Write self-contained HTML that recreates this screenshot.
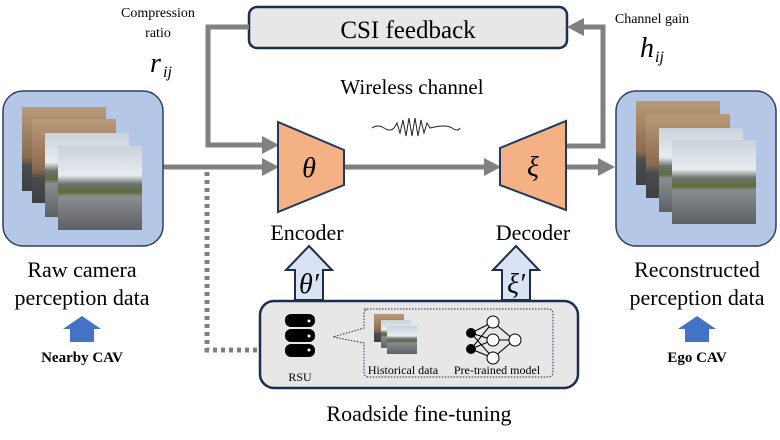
<!DOCTYPE html>
<html><head><meta charset="utf-8"><style>
body{margin:0;background:#fff;}
svg text{font-family:"Liberation Serif","Times New Roman",serif;}
</style></head><body>
<svg width="780" height="435" viewBox="0 0 780 435" xmlns="http://www.w3.org/2000/svg">
<defs>
<linearGradient id="ph" x1="0" y1="0" x2="0" y2="1">
<stop offset="0" stop-color="#c9d2dc"/><stop offset="0.35" stop-color="#e8ecef"/><stop offset="0.45" stop-color="#6c7570"/><stop offset="0.55" stop-color="#5d6b3a"/><stop offset="0.6" stop-color="#8a8d8f"/><stop offset="1" stop-color="#5e6164"/>
</linearGradient>
<linearGradient id="bd" x1="0" y1="0" x2="0" y2="1">
<stop offset="0" stop-color="#b99a78"/><stop offset="0.6" stop-color="#8b6b4f"/><stop offset="0.7" stop-color="#4a4d4f"/><stop offset="1" stop-color="#3e4042"/>
</linearGradient>
</defs>

<rect x="249" y="7" width="318" height="41" rx="8" fill="#e7e7e7" stroke="#1f2d4d" stroke-width="2.5"/>
<text x="408" y="38" font-size="25" text-anchor="middle">CSI feedback</text>

<g fill="none" stroke="#808080" stroke-width="5">
<polyline points="249,27 208,27 208,145 264,145"/>
<polyline points="566,146 603,146 603,27 582,27"/>
<line x1="163" y1="167" x2="264" y2="167"/>
<line x1="344" y1="167" x2="486" y2="167"/>
<line x1="566" y1="167" x2="600" y2="167"/>
<polyline points="207,172 207,350 266,350" stroke-dasharray="4,4"/>
</g>
<g fill="#808080">
<path d="M262,136 L279,145 L262,154 Z"/>
<path d="M262,158 L279,167 L262,176 Z"/>
<path d="M484,158 L501,167 L484,176 Z"/>
<path d="M598,158 L615,167 L598,176 Z"/>
<path d="M584,18 L567,27 L584,36 Z"/>
<path d="M264,342 L280,350 L264,358 Z"/>
</g>

<polygon points="278,122 344,150 344,185 278,212" fill="#f4b183" stroke="#1f3864" stroke-width="2"/>
<text x="309" y="177" font-size="28" font-style="italic" text-anchor="middle">θ</text>
<polygon points="500,148 566,121 566,210 500,185" fill="#f4b183" stroke="#1f3864" stroke-width="2"/>
<text x="533" y="176" font-size="28" font-style="italic" text-anchor="middle">ξ</text>
<text x="307" y="240" font-size="22" text-anchor="middle">Encoder</text>
<text x="533" y="240" font-size="22" text-anchor="middle">Decoder</text>

<text x="412" y="94" font-size="21" text-anchor="middle">Wireless channel</text>
<path d="M372,128 Q378,124 384,128 T394,128 l3,-5 l3,10 l3,-13 l3,16 l3,-18 l3,18 l3,-18 l3,18 l3,-16 l3,13 l3,-10 l3,5 Q446,124 452,128 T460,128" fill="none" stroke="#222" stroke-width="1"/>

<text x="158" y="17" font-size="14" text-anchor="middle">Compression</text>
<text x="158" y="37" font-size="14" text-anchor="middle">ratio</text>
<text x="150" y="72" font-size="28" font-style="italic">r</text><text x="163" y="77" font-size="16" font-style="italic">ij</text>
<text x="652" y="23" font-size="14" text-anchor="middle">Channel gain</text>
<text x="640" y="57" font-size="28" font-style="italic">h</text><text x="655" y="62" font-size="16" font-style="italic">ij</text>

<rect x="3" y="91" width="160" height="155" rx="20" fill="#b4c7e7" stroke="#2f3f5f" stroke-width="1.5"/>
<rect x="22" y="107" width="84" height="84" fill="url(#bd)"/>
<rect x="32" y="119" width="84" height="84" fill="url(#bd)"/>
<rect x="45" y="133" width="84" height="84" fill="url(#ph)"/>
<rect x="58" y="146" width="84" height="84" fill="url(#ph)"/>
<rect x="616" y="91" width="160" height="155" rx="20" fill="#b4c7e7" stroke="#2f3f5f" stroke-width="1.5"/>
<rect x="636" y="101" width="84" height="84" fill="url(#bd)"/>
<rect x="646" y="114" width="84" height="84" fill="url(#bd)"/>
<rect x="659" y="128" width="84" height="84" fill="url(#ph)"/>
<rect x="672" y="140" width="84" height="84" fill="url(#ph)"/>
<text x="82" y="277" font-size="22" text-anchor="middle">Raw camera</text>
<text x="82" y="305" font-size="22" text-anchor="middle">perception data</text>
<text x="697" y="277" font-size="22" text-anchor="middle">Reconstructed</text>
<text x="697" y="305" font-size="22" text-anchor="middle">perception data</text>
<path d="M70,342 L70,329 L63,329 L82,316 L101,329 L94,329 L94,342 Z" fill="#4472c4"/>
<path d="M685,342 L685,329 L678,329 L697,316 L716,329 L709,329 L709,342 Z" fill="#4472c4"/>
<text x="82" y="362" font-size="15" font-weight="bold" text-anchor="middle">Nearby CAV</text>
<text x="697" y="362" font-size="15" font-weight="bold" text-anchor="middle">Ego CAV</text>

<path d="M295,300 L295,270 L286,270 L309,246 L332,270 L323,270 L323,300 Z" fill="#dae3f3" stroke="#1f2d4d" stroke-width="2"/>
<text x="309" y="293" font-size="28" font-style="italic" text-anchor="middle">θ′</text>
<path d="M502,300 L502,270 L493,270 L516,246 L539,270 L530,270 L530,300 Z" fill="#dae3f3" stroke="#1f2d4d" stroke-width="2"/>
<text x="516" y="293" font-size="28" font-style="italic" text-anchor="middle">ξ′</text>

<rect x="260" y="301" width="318" height="87" rx="14" fill="#e7e7e7" stroke="#1f2d4d" stroke-width="2.5"/>
<g fill="#000">
<rect x="285" y="314" width="30" height="13" rx="6"/>
<rect x="285" y="329" width="30" height="13" rx="6"/>
<rect x="285" y="344" width="30" height="13" rx="6"/>
</g>
<g fill="#fff"><circle cx="309" cy="321" r="1.5"/><circle cx="309" cy="336" r="1.5"/><circle cx="309" cy="350" r="1.5"/></g>
<text x="300" y="381" font-size="12" text-anchor="middle">RSU</text>
<path d="M364,309 L548,309 Q553,309 553,314 L553,372 Q553,377 548,377 L369,377 Q364,377 364,372 L364,343 L333,337 L364,328 L364,314 Q364,309 369,309 Z" fill="none" stroke="#1f2d4d" stroke-width="1" stroke-dasharray="1.5,1.5"/>
<rect x="374" y="314" width="30" height="28" fill="url(#bd)"/>
<rect x="381" y="320" width="30" height="28" fill="url(#ph)"/>
<rect x="387" y="326" width="30" height="28" fill="url(#ph)"/>
<g stroke="#000" stroke-width="1" fill="none">
<line x1="471" y1="333" x2="493" y2="322"/><line x1="471" y1="333" x2="493" y2="340"/><line x1="471" y1="333" x2="493" y2="358"/>
<line x1="471" y1="349" x2="493" y2="322"/><line x1="471" y1="349" x2="493" y2="340"/><line x1="471" y1="349" x2="493" y2="358"/>
<line x1="493" y1="322" x2="514" y2="340"/><line x1="493" y1="340" x2="514" y2="340"/><line x1="493" y1="358" x2="514" y2="340"/>
<circle cx="493" cy="322" r="6" fill="#fff"/><circle cx="493" cy="340" r="6" fill="#fff"/><circle cx="493" cy="358" r="6" fill="#fff"/><circle cx="515" cy="340" r="6" fill="#fff"/>
</g>
<circle cx="471" cy="333" r="5" fill="#000"/><circle cx="471" cy="349" r="5" fill="#000"/>
<text x="403" y="374" font-size="12" text-anchor="middle">Historical data</text>
<text x="497" y="374" font-size="12" text-anchor="middle">Pre-trained model</text>
<text x="419" y="421" font-size="22" text-anchor="middle">Roadside fine-tuning</text>
</svg>
</body></html>
